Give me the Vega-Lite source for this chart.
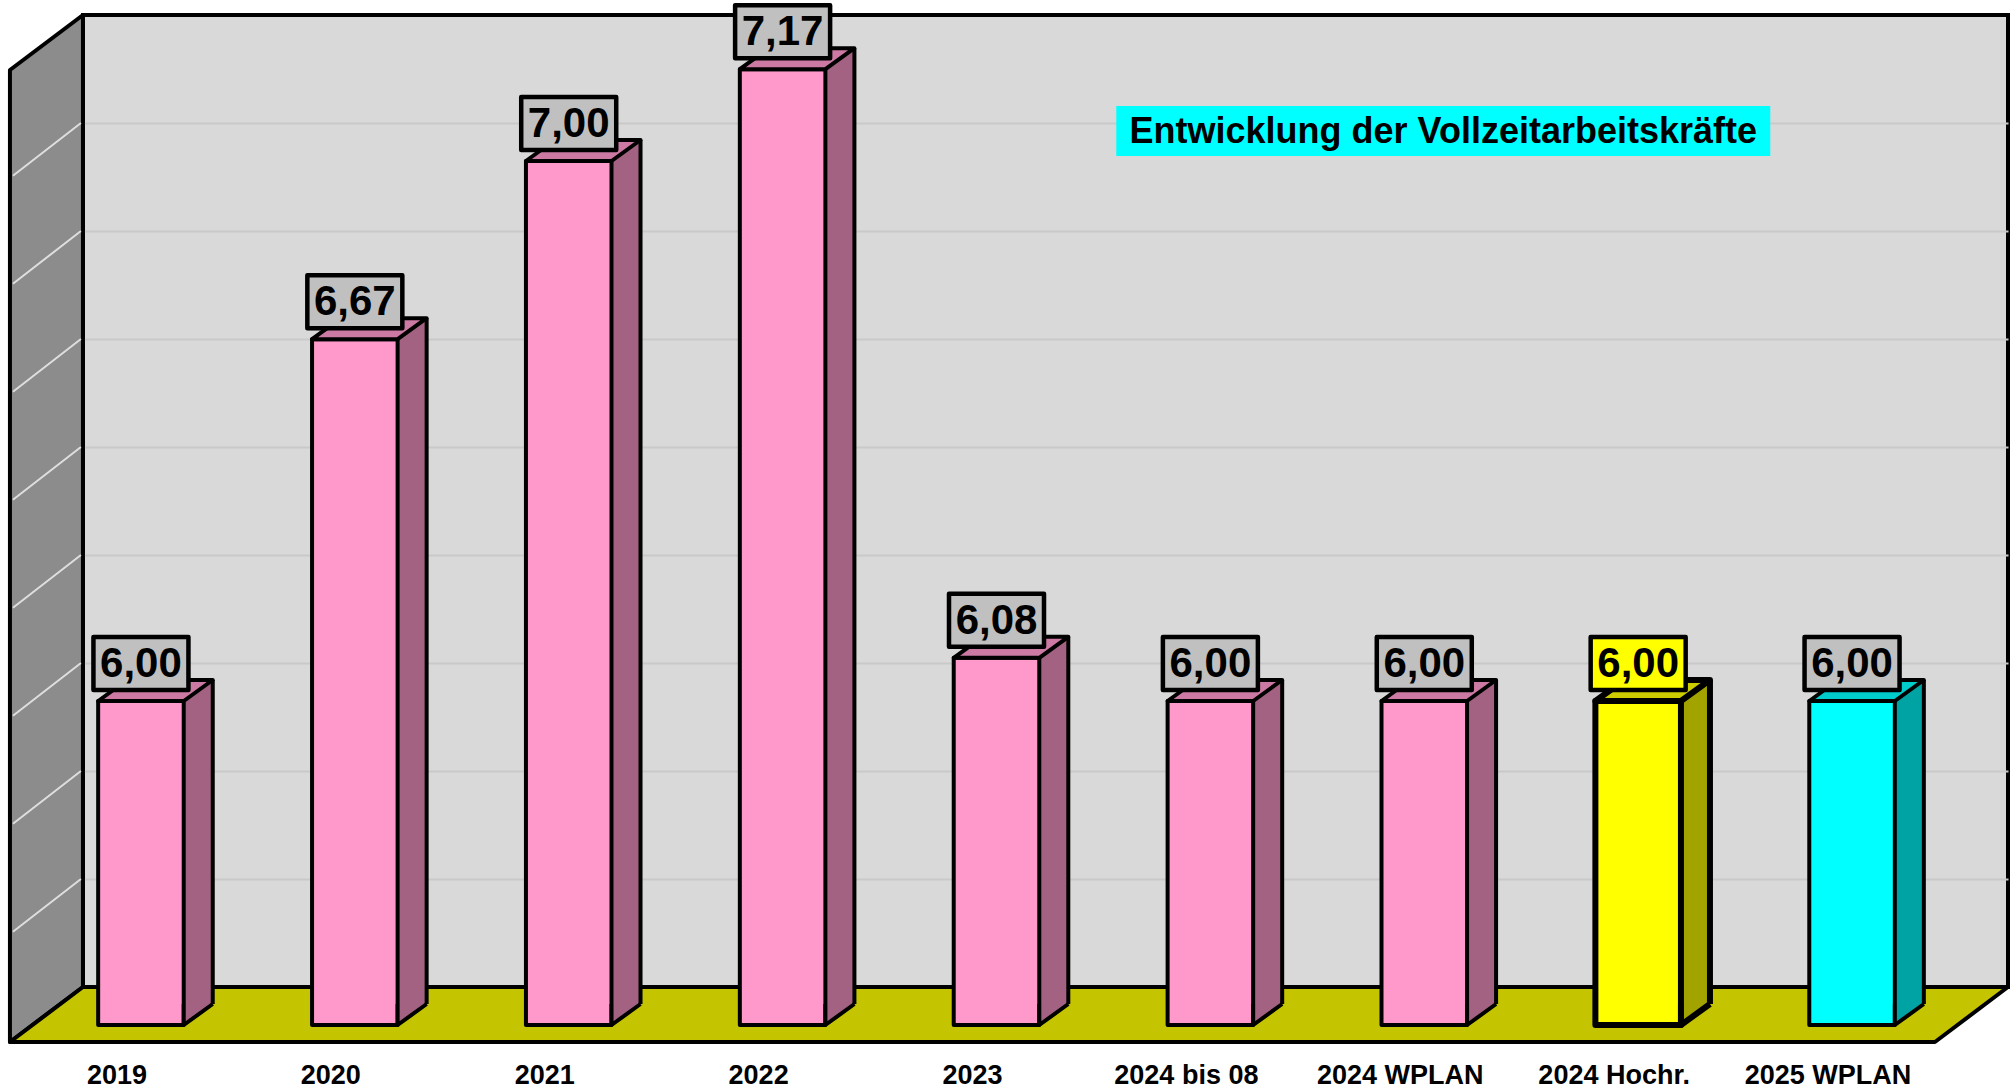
{
  "$schema": "https://vega.github.io/schema/vega-lite/v6.json",
  "width": 1925,
  "height": 972,
  "autosize": {"type": "none"},
  "padding": {"left": 83, "top": 15, "right": 6, "bottom": 102},
  "background": "white",
  "config": {
    "view": {"fill": "#d9d9d9", "stroke": "black", "strokeWidth": 4},
    "locale": {"number": {"decimal": ",", "thousands": ".", "grouping": [3], "currency": ["", " €"]}},
    "font": "Liberation Sans"
  },
  "data": {
    "values": [
      {"jahr": "2019", "vzk": 6.00, "serie": "Standard"},
      {"jahr": "2020", "vzk": 6.67, "serie": "Standard"},
      {"jahr": "2021", "vzk": 7.00, "serie": "Standard"},
      {"jahr": "2022", "vzk": 7.17, "serie": "Standard"},
      {"jahr": "2023", "vzk": 6.08, "serie": "Standard"},
      {"jahr": "2024 bis 08", "vzk": 6.00, "serie": "Standard"},
      {"jahr": "2024 WPLAN", "vzk": 6.00, "serie": "Standard"},
      {"jahr": "2024 Hochr.", "vzk": 6.00, "serie": "Hochrechnung"},
      {"jahr": "2025 WPLAN", "vzk": 6.00, "serie": "Plan"}
    ]
  },
  "encoding": {
    "x": {
      "field": "jahr", "type": "nominal", "axis": null,
      "scale": {"domain": ["2019", "2020", "2021", "2022", "2023", "2024 bis 08", "2024 WPLAN", "2024 Hochr.", "2025 WPLAN"], "paddingInner": 0.6, "paddingOuter": 0.3}
    },
    "y": {
      "field": "vzk", "type": "quantitative", "stack": null, "title": null,
      "scale": {"domain": [5.4, 7.2], "zero": false, "nice": false},
      "axis": {"grid": true, "gridColor": "#c9c9c9", "gridWidth": 2, "domain": false, "ticks": false, "labels": false, "title": null, "values": [5.6, 5.8, 6.0, 6.2, 6.4, 6.6, 6.8, 7.0]}
    }
  },
  "layer": [
    {
      "transform": [{"filter": "datum.jahr === '2019'"}],
      "mark": {"type": "point", "shape": "M-107,0 L-107,-972 L-180,-917 L-180,55 Z", "size": 4, "filled": true, "fill": "#8c8c8c", "stroke": "black", "strokeWidth": 4, "opacity": 1, "strokeJoin": "round"},
      "encoding": {"y": {"datum": 5.4}}
    },
    {
      "transform": [{"filter": "datum.jahr === '2019'"}],
      "mark": {"type": "point", "shape": "M-109,-108 L-177,-55.3 M-109,-216 L-177,-163.3 M-109,-324 L-177,-271.3 M-109,-432 L-177,-379.3 M-109,-540 L-177,-487.3 M-109,-648 L-177,-595.3 M-109,-756 L-177,-703.3 M-109,-864 L-177,-811.3", "size": 4, "filled": false, "stroke": "#dedede", "strokeWidth": 2, "opacity": 1},
      "encoding": {"y": {"datum": 5.4}}
    },
    {
      "transform": [{"filter": "datum.jahr === '2019'"}],
      "mark": {"type": "point", "shape": "M-107,0 L1818,0 L1745,55 L-180,55 Z", "size": 4, "filled": true, "fill": "#c4c400", "stroke": "black", "strokeWidth": 4, "opacity": 1, "strokeJoin": "round"},
      "encoding": {"y": {"datum": 5.4}}
    },
    {
      "mark": {"type": "bar", "xOffset": -20, "x2Offset": -20, "yOffset": 17, "y2Offset": 17, "strokeWidth": 0, "opacity": 1},
      "encoding": {
        "y2": {"datum": 5.4},
        "fill": {"field": "serie", "type": "nominal", "legend": null, "scale": {"domain": ["Standard", "Hochrechnung", "Plan"], "range": ["#a36282", "#a3a300", "#00a3a3"]}}
      }
    },
    {
      "mark": {"type": "rule", "xOffset": 22.8, "yOffset": 17, "y2Offset": 17, "stroke": "black", "opacity": 1},
      "encoding": {
        "y2": {"datum": 5.4},
        "strokeWidth": {"condition": {"test": "datum.serie === 'Hochrechnung'", "value": 6}, "value": 4}
      }
    },
    {
      "mark": {"type": "bar", "xOffset": -49, "x2Offset": -49, "yOffset": 38, "y2Offset": 38, "stroke": "black", "opacity": 1, "strokeJoin": "round"},
      "encoding": {
        "y2": {"datum": 5.4},
        "fill": {"field": "serie", "type": "nominal", "legend": null, "scale": {"domain": ["Standard", "Hochrechnung", "Plan"], "range": ["#ff99cc", "#ffff00", "#00ffff"]}},
        "strokeWidth": {"condition": {"test": "datum.serie === 'Hochrechnung'", "value": 6}, "value": 4}
      }
    },
    {
      "mark": {"type": "point", "shape": "M42.8,-21 L42.8,0 L71.8,-21", "size": 4, "filled": true, "xOffset": -49, "yOffset": 38, "stroke": "black", "opacity": 1, "strokeJoin": "round"},
      "encoding": {
        "y": {"datum": 5.4},
        "fill": {"field": "serie", "type": "nominal", "legend": null, "scale": {"domain": ["Standard", "Hochrechnung", "Plan"], "range": ["#a36282", "#a3a300", "#00a3a3"]}},
        "strokeWidth": {"condition": {"test": "datum.serie === 'Hochrechnung'", "value": 6}, "value": 4}
      }
    },
    {
      "mark": {"type": "point", "shape": "M-42.8,0 L-13.8,-21 L71.8,-21 L42.8,0 Z", "size": 4, "filled": true, "xOffset": -49, "yOffset": 38, "stroke": "black", "opacity": 1, "strokeJoin": "round"},
      "encoding": {
        "fill": {"field": "serie", "type": "nominal", "legend": null, "scale": {"domain": ["Standard", "Hochrechnung", "Plan"], "range": ["#cc7aa3", "#cccc00", "#00cccc"]}},
        "strokeWidth": {"condition": {"test": "datum.serie === 'Hochrechnung'", "value": 6}, "value": 4}
      }
    },
    {
      "mark": {"type": "point", "shape": "M-47.5,-64 L47.5,-64 L47.5,-11 L-47.5,-11 Z", "size": 4, "filled": true, "xOffset": -49, "yOffset": 38, "stroke": "black", "strokeWidth": 4.5, "opacity": 1, "strokeJoin": "round"},
      "encoding": {
        "fill": {"field": "serie", "type": "nominal", "legend": null, "scale": {"domain": ["Standard", "Hochrechnung", "Plan"], "range": ["#c0c0c0", "#ffff00", "#c0c0c0"]}}
      }
    },
    {
      "mark": {"type": "text", "xOffset": -49, "yOffset": 1, "fontSize": 42, "fontWeight": "bold", "baseline": "middle", "align": "center", "color": "black", "font": "Liberation Sans"},
      "encoding": {
        "text": {"field": "vzk", "type": "quantitative", "format": ".2f"}
      }
    },
    {
      "mark": {"type": "text", "xOffset": -73, "yOffset": 89, "fontSize": 27, "fontWeight": "bold", "baseline": "middle", "align": "center", "color": "black", "font": "Liberation Sans"},
      "encoding": {
        "y": {"datum": 5.4},
        "text": {"field": "jahr", "type": "nominal"}
      }
    },
    {
      "transform": [{"filter": "datum.jahr === '2024 WPLAN'"}],
      "mark": {"type": "point", "shape": "M-327,-25 L327,-25 L327,25 L-327,25 Z", "size": 4, "filled": true, "fill": "#00ffff", "strokeWidth": 0, "xOffset": -30, "yOffset": 8, "opacity": 1},
      "encoding": {"y": {"datum": 7.0}}
    },
    {
      "transform": [{"filter": "datum.jahr === '2024 WPLAN'"}],
      "mark": {"type": "text", "xOffset": -30, "yOffset": 9, "fontSize": 36, "fontWeight": "bold", "baseline": "middle", "align": "center", "color": "black", "font": "Liberation Sans"},
      "encoding": {
        "y": {"datum": 7.0},
        "text": {"value": "Entwicklung der Vollzeitarbeitskräfte"}
      }
    }
  ],
  "resolve": {"scale": {"fill": "independent"}}
}
